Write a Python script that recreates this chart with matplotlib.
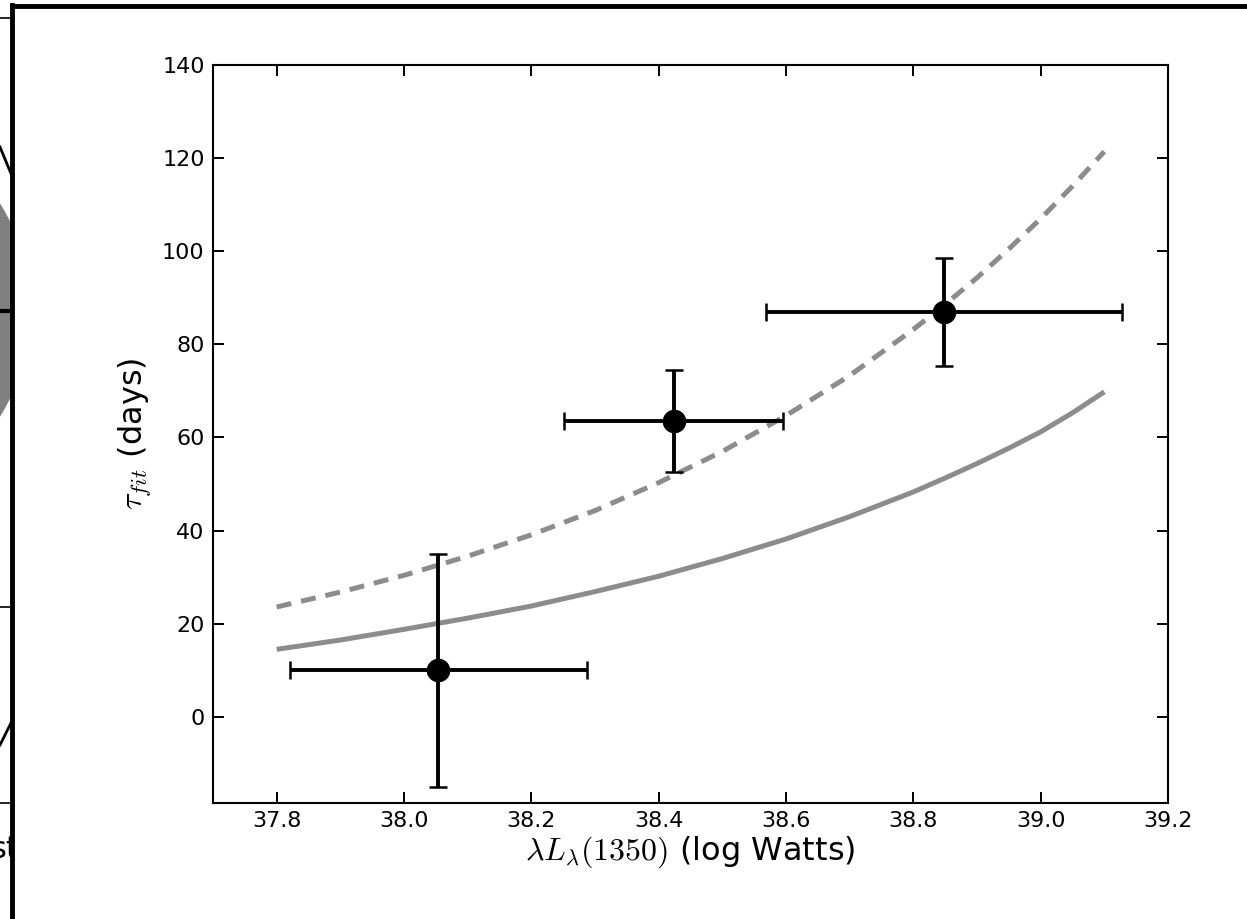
import numpy as np
import matplotlib
matplotlib.use('Agg')
import matplotlib.pyplot as plt
from matplotlib.patches import Wedge
from matplotlib.lines import Line2D
from matplotlib.transforms import Bbox

plt.rcParams['mathtext.fontset'] = 'cm'
plt.rcParams['font.family'] = 'DejaVu Sans'

# measured points (log L, tau) with errors
lum = [38.054, 38.424, 38.848]
lum_err = [0.233, 0.172, 0.28]
tau = [10.0, 63.6, 87.0]
tau_err = [25.0, 11.0, 11.6]

# model curves
curve_x = [37.8, 37.9, 38.0, 38.1, 38.2, 38.3, 38.4, 38.5, 38.6, 38.7, 38.8, 38.85, 38.9, 38.95, 39.0, 39.05, 39.1]
solid_y = [14.5, 16.5, 18.8, 21.2, 23.8, 26.9, 30.2, 34.0, 38.2, 43.0, 48.3, 51.3, 54.4, 57.7, 61.2, 65.3, 69.8]
dashed_y = [23.6, 26.8, 30.4, 34.5, 39.1, 44.3, 50.3, 57.0, 64.7, 73.3, 83.2, 88.6, 94.3, 100.5, 107.0, 114.0, 121.4]

W, H = 1247, 919
fig = plt.figure(figsize=(W / 100, H / 100), dpi=100)
ax = fig.add_axes([213 / W, 1 - 803 / H, (1168 - 213) / W, (803 - 65) / H])

grey = '#8c8c8c'
ax.plot(curve_x, solid_y, color=grey, lw=3.6, solid_capstyle='butt')
ax.plot(curve_x, dashed_y, color=grey, lw=3.6, dashes=(3.0, 2.0))
ax.errorbar(lum, tau, xerr=lum_err, yerr=tau_err, fmt='o', color='black',
            ms=16, elinewidth=2.8, capsize=6.5, capthick=1.8)

ax.set_xlim(37.7, 39.2)
ax.set_ylim(-18.5, 140)
ax.set_xticks(np.arange(37.8, 39.21, 0.2))
ax.set_yticks(np.arange(0, 141, 20))
ax.xaxis.set_major_formatter(matplotlib.ticker.FormatStrFormatter('%.1f'))
ax.tick_params(direction='in', length=8, width=1.4, labelsize=16,
               top=True, right=True, pad=6)
for s in ax.spines.values():
    s.set_linewidth(1.5)

ax.set_xlabel(r'$\lambda L_\lambda(1350)$ (log Watts)', fontsize=23, labelpad=2)
ax.set_ylabel(r'$\tau_{fit}$ (days)', fontsize=23, labelpad=6)

# frame and stray pieces of the neighbouring panel (left of the frame only)
strip = Bbox.from_extents(0, 0, 12, H)
fig.add_artist(Wedge((-170, H - 310), 200, -90, 90, color='#808080',
                     transform=None, zorder=0, clip_box=strip))
fig.add_artist(Line2D([0, 10 / W], [1 - 311 / H, 1 - 311 / H], color='black', lw=3,
                      transform=fig.transFigure))
fig.add_artist(Line2D([0, 12 / W], [1 - 147 / H, 1 - 176 / H], color='black', lw=2,
                      transform=fig.transFigure))
fig.add_artist(Line2D([0, 12 / W], [1 - 745 / H, 1 - 721 / H], color='black', lw=2,
                      transform=fig.transFigure))
for yy in [18, 607, 803]:
    fig.add_artist(Line2D([0, 12 / W], [1 - yy / H, 1 - yy / H], color='black', lw=1.2,
                          transform=fig.transFigure))
t = fig.text(-10 / W, 1 - 858 / H, 'st', fontsize=22, ha='left', va='baseline')
t.set_clip_box(strip)
t.set_clip_on(True)
fig.add_artist(Line2D([12 / W, 12 / W], [0, 1 - 5 / H], color='black', lw=3.5,
                      transform=fig.transFigure))
fig.add_artist(Line2D([12 / W, 1], [1 - 6 / H, 1 - 6 / H], color='black', lw=3.5,
                      transform=fig.transFigure))

fig.savefig('out.png', dpi=100)
